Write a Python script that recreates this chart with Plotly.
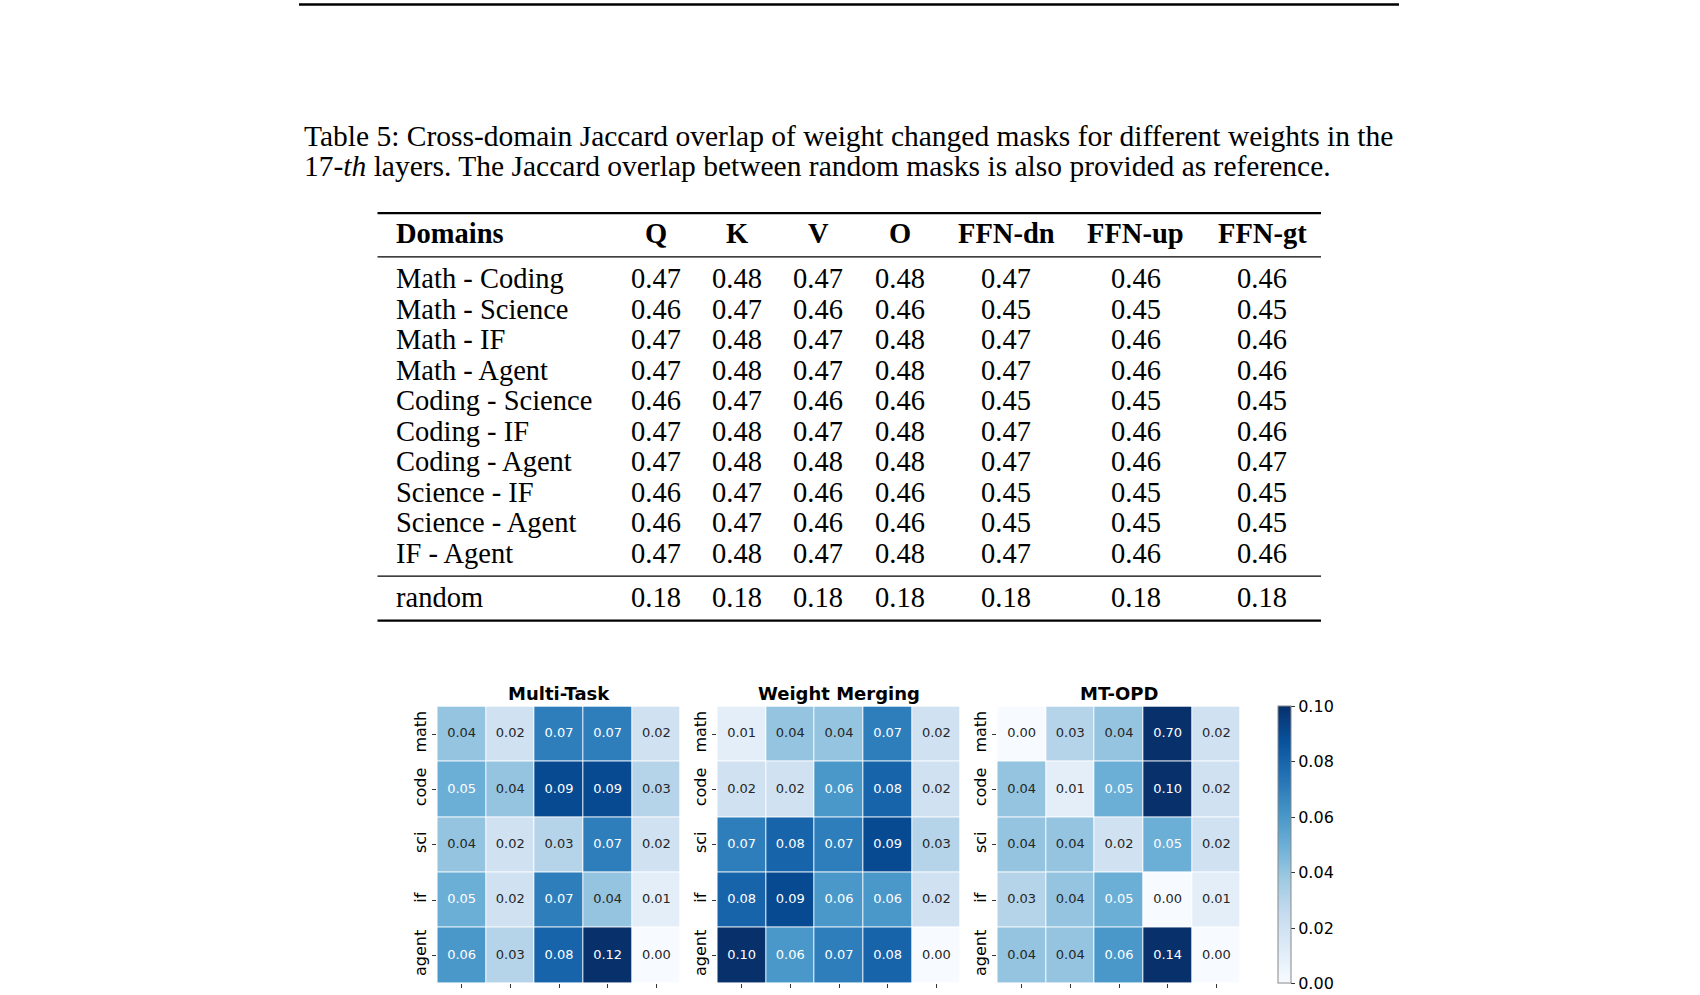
import plotly.graph_objects as go

W, H = 1700, 995          # reference picture size (all positions are given in it)
PAGE_H = H + 16           # the page is drawn 16px taller and squeezed to 995 when photographed

# ---------------- data ----------------
caption_line1 = "Table 5: Cross-domain Jaccard overlap of weight changed masks for different weights in the"
caption_line2 = "17-<i>th</i> layers. The Jaccard overlap between random masks is also provided as reference."

table_columns = ["Domains", "Q", "K", "V", "O", "FFN-dn", "FFN-up", "FFN-gt"]
domain_pairs = ["Math - Coding", "Math - Science", "Math - IF", "Math - Agent",
                "Coding - Science", "Coding - IF", "Coding - Agent",
                "Science - IF", "Science - Agent", "IF - Agent"]
q_vals = [0.47, 0.46, 0.47, 0.47, 0.46, 0.47, 0.47, 0.46, 0.46, 0.47]
k_vals = [0.48, 0.47, 0.48, 0.48, 0.47, 0.48, 0.48, 0.47, 0.47, 0.48]
v_vals = [0.47, 0.46, 0.47, 0.47, 0.46, 0.47, 0.48, 0.46, 0.46, 0.47]
o_vals = [0.48, 0.46, 0.48, 0.48, 0.46, 0.48, 0.48, 0.46, 0.46, 0.48]
ffn_dn_vals = [0.47, 0.45, 0.47, 0.47, 0.45, 0.47, 0.47, 0.45, 0.45, 0.47]
ffn_up_vals = [0.46, 0.45, 0.46, 0.46, 0.45, 0.46, 0.46, 0.45, 0.45, 0.46]
ffn_gt_vals = [0.46, 0.45, 0.46, 0.46, 0.45, 0.46, 0.47, 0.45, 0.45, 0.46]
random_label = "random"
random_vals = [0.18, 0.18, 0.18, 0.18, 0.18, 0.18, 0.18]

row_labels = ["math", "code", "sci", "if", "agent"]
col_labels = ["math", "code", "sci", "if", "agent"]
panel_titles = ["Multi-Task", "Weight Merging", "MT-OPD"]
multi_task = [
    [0.04, 0.02, 0.07, 0.07, 0.02],
    [0.05, 0.04, 0.09, 0.09, 0.03],
    [0.04, 0.02, 0.03, 0.07, 0.02],
    [0.05, 0.02, 0.07, 0.04, 0.01],
    [0.06, 0.03, 0.08, 0.12, 0.00],
]
weight_merging = [
    [0.01, 0.04, 0.04, 0.07, 0.02],
    [0.02, 0.02, 0.06, 0.08, 0.02],
    [0.07, 0.08, 0.07, 0.09, 0.03],
    [0.08, 0.09, 0.06, 0.06, 0.02],
    [0.10, 0.06, 0.07, 0.08, 0.00],
]
mt_opd = [
    [0.00, 0.03, 0.04, 0.70, 0.02],
    [0.04, 0.01, 0.05, 0.10, 0.02],
    [0.04, 0.04, 0.02, 0.05, 0.02],
    [0.03, 0.04, 0.05, 0.00, 0.01],
    [0.04, 0.04, 0.06, 0.14, 0.00],
]
cbar_ticks = [0.00, 0.02, 0.04, 0.06, 0.08, 0.10]

# ---------------- style ----------------
blues = ["rgb(247,251,255)", "rgb(222,235,247)", "rgb(198,219,239)", "rgb(158,202,225)",
         "rgb(107,174,214)", "rgb(66,146,198)", "rgb(33,113,181)", "rgb(8,81,156)", "rgb(8,48,107)"]
colorscale = [[i / (len(blues) - 1), c] for i, c in enumerate(blues)]
ZMIN, ZMAX = 0.0, 0.10


def parse(c):
    return [float(t) for t in c[4:-1].split(",")]


def cell_color(v):
    t = min(max((v - ZMIN) / (ZMAX - ZMIN), 0), 1) * (len(blues) - 1)
    i = min(int(t), len(blues) - 2)
    f = t - i
    a, b = parse(blues[i]), parse(blues[i + 1])
    return [a[k] + (b[k] - a[k]) * f for k in range(3)]


def luminance(rgb):
    out = []
    for c in rgb:
        c = c / 255
        out.append(c / 12.92 if c <= 0.03928 else ((c + 0.055) / 1.055) ** 2.4)
    return 0.2126 * out[0] + 0.7152 * out[1] + 0.0722 * out[2]


SANS = "DejaVu Sans"
SERIF = "Liberation Serif"


def px(x):
    return x / W


def py(y):
    return 1 - y / H


fig = go.Figure()

# ---------------- heatmaps ----------------
panels = [multi_task, weight_merging, mt_opd]
panel_x0 = [437.3, 717.3, 997.3]
panel_w = 243.4
hm_top, hm_bot = 705.0, 981.0

for k, z in enumerate(panels):
    sfx = "" if k == 0 else str(k + 1)
    fig.add_trace(go.Heatmap(
        z=z, x=col_labels, y=row_labels, colorscale=colorscale, zmin=ZMIN, zmax=ZMAX,
        xgap=1, ygap=1, hoverinfo="skip", xaxis="x" + sfx, yaxis="y" + sfx,
        showscale=(k == 2),
        colorbar=dict(
            x=px(1277.5), xanchor="left", y=py(hm_top), yanchor="top",
            len=(hm_bot - hm_top) / H, lenmode="fraction", thickness=12.5, thicknessmode="pixels",
            xpad=0, ypad=0, outlinewidth=1, outlinecolor="#888888",
            tickvals=cbar_ticks, ticktext=[f"{t:.2f}" for t in cbar_ticks],
            ticks="outside", ticklen=4, tickwidth=1, tickcolor="#333333",
            tickfont=dict(family=SANS, size=16, color="black"),
        ),
    ))
    xs, ys, txt, cols = [], [], [], []
    for r, rl in enumerate(row_labels):
        for c, cl in enumerate(col_labels):
            v = z[r][c]
            xs.append(cl)
            ys.append(rl)
            txt.append(f"{v:.2f}")
            cols.append("white" if luminance(cell_color(v)) < 0.408 else "#262626")
    fig.add_trace(go.Scatter(
        x=xs, y=ys, text=txt, mode="text", hoverinfo="skip", showlegend=False,
        textfont=dict(family=SANS, size=13, color=cols),
        xaxis="x" + sfx, yaxis="y" + sfx,
    ))
    x0 = panel_x0[k]
    fig.layout["xaxis" + sfx] = dict(
        domain=[px(x0), px(x0 + panel_w)], anchor="y" + sfx, type="category",
        categoryorder="array", categoryarray=col_labels, range=[-0.5, 4.5],
        showgrid=False, zeroline=False, showline=False,
        ticks="outside", ticklen=4, tickwidth=1, tickcolor="#333333",
        tickfont=dict(family=SANS, size=16, color="black"), fixedrange=True,
    )
    fig.layout["yaxis" + sfx] = dict(
        domain=[py(hm_bot), py(hm_top)], anchor="x" + sfx, type="category",
        categoryorder="array", categoryarray=row_labels, range=[4.5, -0.5],
        showgrid=False, zeroline=False, showline=False, tickangle=-90,
        ticks="outside", ticklen=4, tickwidth=1, tickcolor="#333333",
        tickfont=dict(family=SANS, size=16, color="black"), fixedrange=True,
    )
    fig.add_annotation(
        text=f"<b>{panel_titles[k]}</b>", xref="paper", yref="paper",
        x=px(x0 + panel_w / 2), y=py(692.5), xanchor="center", yanchor="middle",
        showarrow=False, font=dict(family=SANS, size=18, color="black"),
    )

# ---------------- caption ----------------
for line, yc in [(caption_line1, 135.5), (caption_line2, 166.0)]:
    fig.add_annotation(
        text=line, xref="paper", yref="paper", x=px(302), y=py(yc),
        xanchor="left", yanchor="middle", showarrow=False,
        font=dict(family=SERIF, size=29.5, color="black"),
    )

# ---------------- table ----------------
tab_left, tab_right = 377.5, 1321.0
dom_x = 393.75
col_centers = [655.6, 736.9, 818.0, 900.0, 1006.0, 1135.6, 1262.0]
header_y = 233.3
row_y0, row_step = 278.3, 30.4
random_y = 596.7


def text_ann(t, x, y, anchor="center", bold=False):
    fig.add_annotation(
        text=f"<b>{t}</b>" if bold else t, xref="paper", yref="paper",
        x=px(x), y=py(y), xanchor=anchor, yanchor="middle", showarrow=False,
        font=dict(family=SERIF, size=28.5, color="black"),
    )


text_ann(table_columns[0], dom_x, header_y, "left", True)
for j, name in enumerate(table_columns[1:]):
    text_ann(name, col_centers[j], header_y, "center", True)

value_cols = [q_vals, k_vals, v_vals, o_vals, ffn_dn_vals, ffn_up_vals, ffn_gt_vals]
for i, pair in enumerate(domain_pairs):
    y = row_y0 + i * row_step
    text_ann(pair, dom_x, y, "left")
    for j, col in enumerate(value_cols):
        text_ann(f"{col[i]:.2f}", col_centers[j], y)

text_ann(random_label, dom_x, random_y, "left")
for j, v in enumerate(random_vals):
    text_ann(f"{v:.2f}", col_centers[j], random_y)

shapes = []
for y, w in [(212.7, 2.2), (256.3, 1.3), (575.0, 1.3), (619.4, 2.2)]:
    shapes.append(dict(type="line", xref="paper", yref="paper",
                       x0=px(tab_left), x1=px(tab_right), y0=py(y), y1=py(y),
                       line=dict(color="black", width=w)))
# page header rule
shapes.append(dict(type="line", xref="paper", yref="paper",
                   x0=px(299), x1=px(1399), y0=py(4.5), y1=py(4.5),
                   line=dict(color="black", width=2.4)))

fig.update_layout(
    width=W, height=PAGE_H, autosize=False, margin=dict(l=0, r=0, t=0, b=0, pad=0),
    paper_bgcolor="white", plot_bgcolor="white", showlegend=False,
    shapes=shapes,
)

fig.write_html(
    "out.html",
    config={"displayModeBar": False},
    post_script="document.body.style.margin='0';document.body.style.overflow='hidden';",
)
